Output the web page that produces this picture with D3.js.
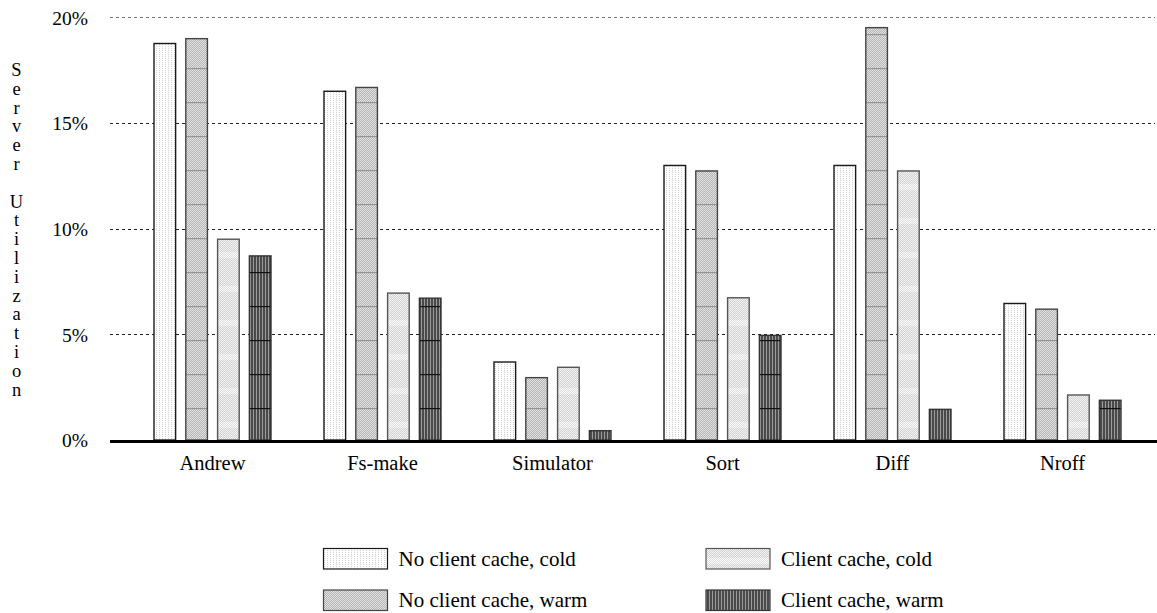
<!DOCTYPE html>
<html>
<head>
<meta charset="utf-8">
<script src="https://cdn.jsdelivr.net/npm/d3@7/dist/d3.min.js"></script>
<style>
  html, body { margin: 0; padding: 0; background: #fff; }
  svg { display: block; }
  svg text { font-family: "Liberation Serif", "Times New Roman", Times, "DejaVu Serif", serif !important; fill: #000; }
</style>
</head>
<body>
<div id="chart"></div>
<script>
// ---- data ----
const categories = ["Andrew", "Fs-make", "Simulator", "Sort", "Diff", "Nroff"];
const seriesNames = ["No client cache, cold", "No client cache, warm", "Client cache, cold", "Client cache, warm"];
const noCacheCold = [18.76, 16.5, 3.69, 12.99, 12.99, 6.46];
const noCacheWarm = [18.99, 16.68, 2.95, 12.73, 19.51, 6.19];
const cacheCold   = [9.5, 6.95, 3.44, 6.73, 12.73, 2.13];
const cacheWarm   = [8.71, 6.71, 0.44, 4.95, 1.45, 1.88];
const yTicks = [0, 5, 10, 15, 20];
const yTitle = "Server Utilization";

const seriesValues = [noCacheCold, noCacheWarm, cacheCold, cacheWarm];
const FONT = '"Liberation Serif", "Times New Roman", Times, "DejaVu Serif", serif';

// ---- layout ----
const W = 1157, H = 613;
const svg = d3.select("#chart").append("svg").attr("width", W).attr("height", H)
  .attr("font-family", FONT);
const defs = svg.append("defs");

function micro(id, w, h, bg, pixels) {
  const p = defs.append("pattern").attr("id", id).attr("patternUnits", "userSpaceOnUse")
    .attr("width", w).attr("height", h);
  p.append("rect").attr("width", w).attr("height", h).attr("fill", bg);
  pixels.forEach(([x, y, c, pw, ph]) => p.append("rect").attr("x", x).attr("y", y)
    .attr("width", pw || 1).attr("height", ph || 1).attr("fill", c));
}
micro("mA", 3, 2, "#ffffff", [[0, 0, "#d0d0d0"]]);
micro("mB", 2, 2, "#b4b4b4", [[0, 0, "#e2e2e2"], [1, 1, "#e2e2e2"]]);
micro("mC", 2, 2, "#d0d0d0", [[0, 0, "#f4f4f4"], [1, 1, "#f4f4f4"]]);
micro("mD", 3, 2, "#4a4a4a", [[1, 0, "#9a9a9a", 1, 2]]);

function banded(id, base, lineColor, lightBand) {
  const p = defs.append("pattern").attr("id", id).attr("patternUnits", "userSpaceOnUse")
    .attr("width", 6).attr("height", 34);
  p.append("rect").attr("width", 6).attr("height", 34).attr("fill", `url(#${base})`);
  if (lightBand) p.append("rect").attr("y", 14).attr("width", 6).attr("height", 6).attr("fill", "#ffffff").attr("opacity", 0.35);
  if (lineColor) p.append("rect").attr("y", 0).attr("width", 6).attr("height", 1.2).attr("fill", lineColor);
}
banded("pA", "mA", null, false);
banded("pB", "mB", "#959595", false);
banded("pC", "mC", null, true);
banded("pD", "mD", "#111111", false);

const fills = ["url(#pA)", "url(#pB)", "url(#pC)", "url(#pD)"];
const strokes = ["#1a1a1a", "#444444", "#555555", "#333333"];

// ---- scales ----
const y = d3.scaleLinear().domain([0, 20]).range([440, 17.3]);
const x0 = d3.scaleBand().domain(categories).range([127.5, 1147.5])
  .paddingInner(0.3118).paddingOuter(0.1559);
const x1 = d3.scaleBand().domain(seriesNames).range([0, x0.bandwidth()])
  .paddingInner(0.32).paddingOuter(0);

// ---- gridlines ----
svg.append("g").selectAll("line").data(yTicks.filter(t => t > 0)).join("line")
  .attr("x1", 110).attr("x2", 1155)
  .attr("y1", d => Math.round(y(d)) + 0.5).attr("y2", d => Math.round(y(d)) + 0.5)
  .attr("stroke", d => d === 20 ? "#7a7a7a" : "#222")
  .attr("stroke-width", 1)
  .attr("stroke-dasharray", "3,3");

// ---- y axis labels ----
const yAxis = d3.axisLeft(y).tickValues(yTicks).tickFormat(d => d + "%").tickSize(0).tickPadding(0);
const yG = svg.append("g").attr("transform", "translate(88,0)").call(yAxis)
  .attr("font-family", FONT);
yG.select(".domain").remove();
yG.selectAll("text").attr("font-size", 19.5).attr("fill", "#000").attr("dy", "0.35em");

// vertical stacked y title
svg.append("g").selectAll("text").data(Array.from(yTitle)).join("text")
  .attr("x", 16.5).attr("y", (d, i) => 76 + i * 18.8)
  .attr("text-anchor", "middle").attr("font-size", 18.5)
  .text(d => d);

// ---- bars ----
const barsG = svg.append("g");
categories.forEach((cat, ci) => {
  seriesNames.forEach((s, si) => {
    const v = seriesValues[si][ci];
    barsG.append("rect")
      .attr("x", x0(cat) + x1(s)).attr("y", y(v))
      .attr("width", x1.bandwidth()).attr("height", y(0) - y(v))
      .attr("fill", fills[si]).attr("stroke", strokes[si]).attr("stroke-width", 1.4);
  });
});

// baseline
svg.append("line").attr("x1", 110).attr("x2", 1157).attr("y1", y(0) + 1.5).attr("y2", y(0) + 1.5)
  .attr("stroke", "#000").attr("stroke-width", 3);

// ---- x axis labels ----
const xAxis = d3.axisBottom(x0).tickSize(0).tickPadding(0);
const xG = svg.append("g").attr("transform", "translate(0,455)").call(xAxis)
  .attr("font-family", FONT);
xG.select(".domain").remove();
xG.selectAll("text").attr("font-size", 20.5).attr("fill", "#000").attr("dy", "0.71em");

// ---- legend ----
const legendPos = [
  { x: 323.5, y: 548.5 }, { x: 323.5, y: 590 },
  { x: 706, y: 548.5 }, { x: 706, y: 590 }
];
const lg = svg.append("g");
seriesNames.forEach((s, i) => {
  const p = legendPos[i];
  lg.append("rect").attr("x", p.x).attr("y", p.y).attr("width", 64).attr("height", 20.5)
    .attr("fill", fills[i]).attr("stroke", strokes[i]).attr("stroke-width", 1.2);
  lg.append("text").attr("x", p.x + 75).attr("y", p.y + 17).attr("font-size", 21).text(s);
});
</script>
</body>
</html>
